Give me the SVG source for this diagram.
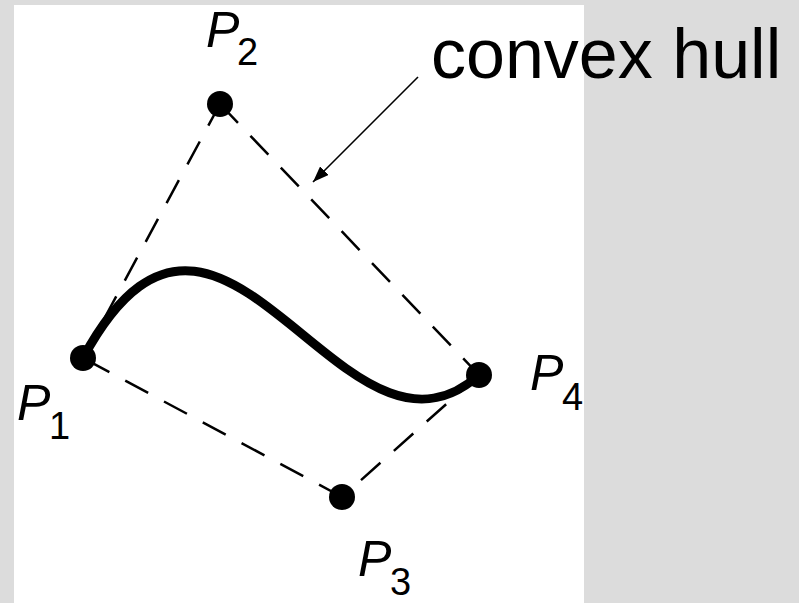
<svg xmlns="http://www.w3.org/2000/svg" width="799" height="603" viewBox="0 0 799 603">
<style>
.hull{fill:none;stroke:#000;stroke-width:2.5;stroke-dasharray:26 18}
.pt{fill:#000}
.lab{font-family:"Liberation Sans",Arial,sans-serif;font-style:italic;font-size:50px;fill:#000}
.sub{font-family:"Liberation Sans",Arial,sans-serif;font-size:38px;fill:#000}
.note{font-family:"Liberation Sans",Arial,sans-serif;font-size:70px;fill:#000}
</style>
<defs>
<marker id="ah" markerWidth="16" markerHeight="12" refX="16" refY="6" orient="auto" markerUnits="userSpaceOnUse">
<path d="M0,0 L16,6 L0,12 Z" fill="#000"/>
</marker>
</defs>
<rect x="0" y="0" width="799" height="603" fill="#dcdcdc"/>
<rect x="14" y="5" width="570" height="598" fill="#fff"/>
<g id="connectors">
<path class="hull" d="M83,358 L220,104"/>
<path class="hull" d="M220,104 L479,375"/>
<path class="hull" d="M479,375 L342,497"/>
<path class="hull" d="M342,497 L83,358"/>
<path id="curve" d="M83,358 C220,104 342,497 479,375" fill="none" stroke="#000" stroke-width="9"/>
<line x1="418" y1="77" x2="313" y2="182" stroke="#000" stroke-width="1.6" marker-end="url(#ah)"/>
</g>
<g id="P1"><circle class="pt" cx="83" cy="358" r="13"/><text class="lab" x="17" y="420">P</text><text class="sub" x="49" y="439">1</text></g>
<g id="P2"><circle class="pt" cx="220" cy="104" r="13"/><text class="lab" x="206" y="47">P</text><text class="sub" x="237" y="65">2</text></g>
<g id="P3"><circle class="pt" cx="342" cy="497" r="13"/><text class="lab" x="358" y="576">P</text><text class="sub" x="390" y="595">3</text></g>
<g id="P4"><circle class="pt" cx="479" cy="375" r="13"/><text class="lab" x="530" y="390">P</text><text class="sub" x="562" y="410">4</text></g>
<g id="label"><text class="note" x="431" y="78">convex hull</text></g>
</svg>
